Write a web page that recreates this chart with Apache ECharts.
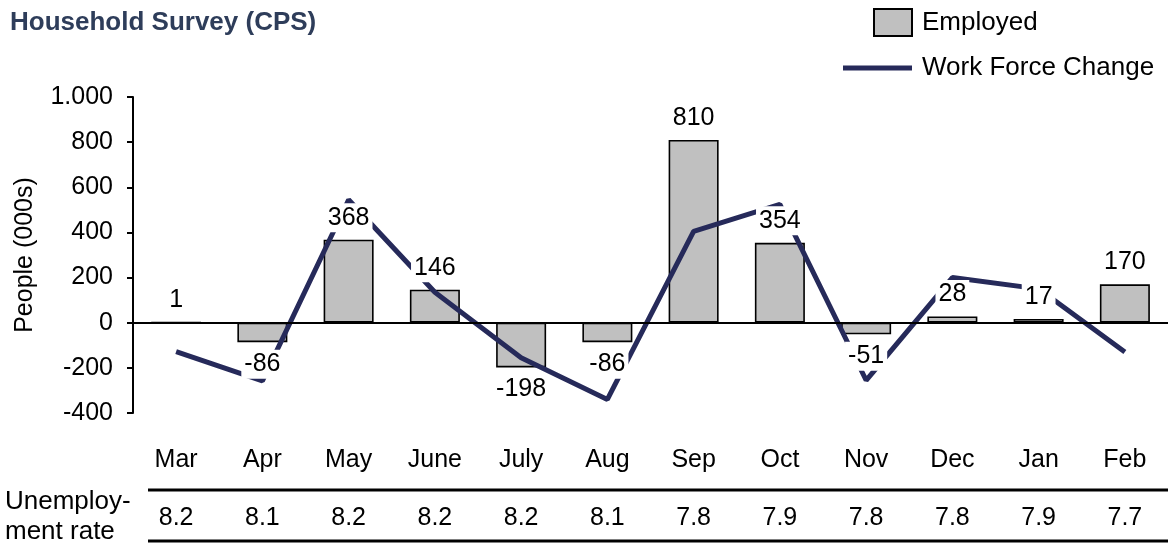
<!DOCTYPE html>
<html><head><meta charset="utf-8">
<script src="https://cdn.jsdelivr.net/npm/echarts@6/dist/echarts.min.js"></script>
<style>html,body{margin:0;padding:0;background:#fff}#c{width:1168px;height:544px}</style>
</head><body><div id="c"></div>
<script>
const months = ['Mar','Apr','May','June','July','Aug','Sep','Oct','Nov','Dec','Jan','Feb'];
const employed = [1,-86,368,146,-198,-86,810,354,-51,28,17,170];
const workForceChange = [-128,-258,545,135,-155,-340,405,524,-255,200,150,-130];
const unemploymentRate = ['8.2','8.1','8.2','8.2','8.2','8.1','7.8','7.9','7.8','7.8','7.9','7.7'];
const yMin = -400, yMax = 1000, yStep = 200;

const FONT = '"Liberation Sans", Arial, sans-serif';
const FS = 25;
const chart = echarts.init(document.getElementById('c'), null, {renderer:'canvas'});
function fmt(v){ return String(v).replace(/\B(?=(\d{3})+(?!\d))/g, '.'); }

chart.setOption({
  animation:false,
  textStyle:{fontFamily:FONT},
  title:{text:'Household Survey (CPS)', left:5, top:5,
    textStyle:{fontFamily:FONT, fontSize:26, fontWeight:'bold', color:'#2e3d5a'}},
  legend:[
    {data:['Employed'], icon:'rect', left:873, top:8, itemWidth:38, itemHeight:27, padding:0,
     textStyle:{fontFamily:FONT, fontSize:26, color:'#000', padding:[0,0,0,5]}},
    {data:['Work Force Change'], icon:'rect', left:843, top:55, itemWidth:69, itemHeight:5, padding:0,
     itemStyle:{borderWidth:0},
     textStyle:{fontFamily:FONT, fontSize:26, color:'#000', padding:[0,0,0,5]}}
  ],
  grid:{left:133, right:-3, top:97, bottom:131, containLabel:false},
  xAxis:[
    {type:'category', data:months, gridIndex:0, axisLine:{onZero:true, lineStyle:{color:'#000', width:2}},
     axisTick:{show:false}, axisLabel:{show:false}, z:4},
    {type:'category', data:months, gridIndex:0, position:'bottom', axisLine:{show:false, onZero:false},
     axisTick:{show:false}, axisLabel:{margin:35, fontSize:FS, color:'#000', fontFamily:FONT}},
    {type:'category', data:unemploymentRate, gridIndex:0, position:'bottom', offset:80,
     axisLine:{show:false, onZero:false}, axisTick:{show:false},
     axisLabel:{margin:13, fontSize:FS, color:'#000', fontFamily:FONT}}
  ],
  yAxis:{type:'value', min:yMin, max:yMax, interval:yStep,
    name:'People (000s)', nameLocation:'middle', nameGap:95, nameRotate:90,
    nameTextStyle:{fontSize:FS, color:'#000', fontFamily:FONT},
    axisLine:{show:true, lineStyle:{color:'#000', width:2}},
    axisTick:{show:true, length:6, inside:false, lineStyle:{color:'#000', width:2}},
    splitLine:{show:false},
    axisLabel:{margin:20, fontSize:FS, color:'#000', fontFamily:FONT, formatter:fmt}},
  graphic:[
    {type:'line', shape:{x1:148,y1:490,x2:1168,y2:490}, style:{stroke:'#000', lineWidth:3}},
    {type:'line', shape:{x1:148,y1:541,x2:1168,y2:541}, style:{stroke:'#000', lineWidth:3}},
    {type:'text', left:5, top:487, style:{text:'Unemploy-\nment rate', fontSize:26, lineHeight:30, fill:'#000', fontFamily:FONT}}
  ],
  series:[
    {name:'Employed', type:'bar', data:employed, barWidth:50, z:2,
     itemStyle:{color:'#c0c0c0', borderColor:'#000', borderWidth:1.6}},
    {name:'Work Force Change', type:'line', data:workForceChange, symbol:'none', z:3,
     lineStyle:{color:'#262a5a', width:5}, itemStyle:{color:'#262a5a'}},
    {name:'labels', type:'scatter', symbolSize:1, z:5, silent:true,
     itemStyle:{color:'rgba(0,0,0,0)', opacity:1},
     data:employed.map(v=>({value:v, label:{position:v>=0?'top':'bottom'}})),
     label:{show:true, distance:7, fontSize:FS, color:'#000', opacity:1, fontFamily:FONT,
       backgroundColor:'#fff', padding:[2,3], formatter:p=>String(p.value)}}
  ]
});
</script></body></html>
